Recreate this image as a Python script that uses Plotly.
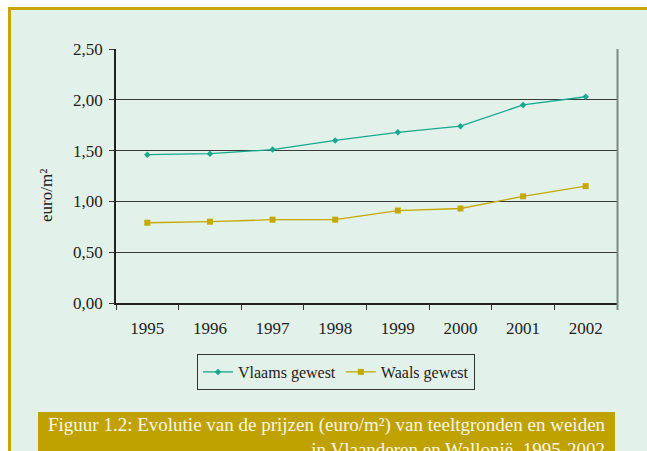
import plotly.graph_objects as go

years = ['1995', '1996', '1997', '1998', '1999', '2000', '2001', '2002']
vlaams = [1.46, 1.47, 1.51, 1.60, 1.68, 1.74, 1.95, 2.03]
waals = [0.79, 0.80, 0.82, 0.82, 0.91, 0.93, 1.05, 1.15]
y_ticks = [0, 0.5, 1.0, 1.5, 2.0, 2.5]

W, H = 647, 451
L, R, T, B = 116, 617, 49, 303
BG = '#e2f1ea'
GOLD = '#c4a800'
TEAL = '#17a88e'
MUSTARD = '#c6a900'
FONT = 'Liberation Serif'


def px(x):
    return (x - L) / (R - L)


def py(y):
    return (B - y) / (B - T)


fig = go.Figure()
fig.add_trace(go.Scatter(x=years, y=vlaams, name='Vlaams gewest', mode='lines+markers',
                         line=dict(color=TEAL, width=1.3),
                         marker=dict(symbol='diamond', size=5, color=TEAL)))
fig.add_trace(go.Scatter(x=years, y=waals, name='Waals gewest', mode='lines+markers',
                         line=dict(color=MUSTARD, width=1.3),
                         marker=dict(symbol='square', size=6, color=MUSTARD)))

shapes = [
    # page background and gold frame
    dict(type='rect', xref='paper', yref='paper', x0=px(10), x1=px(W + 5), y0=py(9), y1=py(H + 5),
         fillcolor=BG, line_width=0, layer='below'),
    dict(type='line', xref='paper', yref='paper', x0=px(8), x1=px(W + 5), y0=py(8.5), y1=py(8.5),
         line=dict(color=GOLD, width=3)),
    dict(type='line', xref='paper', yref='paper', x0=px(9.5), x1=px(9.5), y0=py(7), y1=py(H + 5),
         line=dict(color=GOLD, width=3)),
    # right border of plot
    dict(type='line', xref='paper', yref='paper', x0=px(617.5), x1=px(617.5), y0=py(T), y1=py(310),
         line=dict(color='#7d8a84', width=2)),
    # caption box
    dict(type='rect', xref='paper', yref='paper', x0=px(38), x1=px(615), y0=py(412), y1=py(H + 5),
         fillcolor='#bfa200', line_width=0),
]

annotations = [
    dict(text='euro/m²', xref='paper', yref='paper', x=px(46), y=py(196), textangle=-90,
         xanchor='center', yanchor='middle',
         showarrow=False, font=dict(family=FONT, size=17, color='#222')),
    dict(text='Figuur 1.2: Evolutie van de prijzen (euro/m²) van teeltgronden en weiden<br>'
              'in Vlaanderen en Wallonië, 1995-2002',
         xref='paper', yref='paper', x=px(608), y=py(412), xanchor='right', yanchor='top',
         align='right', showarrow=False, font=dict(family=FONT, size=19, color='#fbf6e0')),
]

fig.update_layout(
    width=W, height=H,
    margin=dict(l=L, r=W - R, t=T, b=H - B),
    paper_bgcolor='white', plot_bgcolor='rgba(0,0,0,0)',
    font=dict(family=FONT, size=17, color='#222'),
    separators=',.',
    shapes=shapes, annotations=annotations,
    legend=dict(orientation='h', x=px(197), y=py(354), xanchor='left', yanchor='top',
                bordercolor='#333', borderwidth=1, bgcolor=BG,
                font=dict(family=FONT, size=16, color='#222'),
                itemwidth=30, tracegroupgap=0),
)
fig.update_xaxes(type='category', tickson='boundaries', ticks='outside', ticklen=5,
                 tickcolor='#333', showline=True, linecolor='#222', linewidth=2,
                 showgrid=False, range=[-0.5, 7.5], ticklabelstandoff=9)
fig.update_yaxes(range=[0, 2.5], tickvals=y_ticks, tickformat='.2f', ticks='outside',
                 ticklen=5, tickcolor='#333', showline=True, linecolor='#222', linewidth=1.5,
                 showgrid=True, gridcolor='#3a3a3a', gridwidth=1, zeroline=False,
                 ticklabelstandoff=3)

fig.write_html('out.html', config={'displayModeBar': False},
               post_script="document.body.style.margin='0';")
